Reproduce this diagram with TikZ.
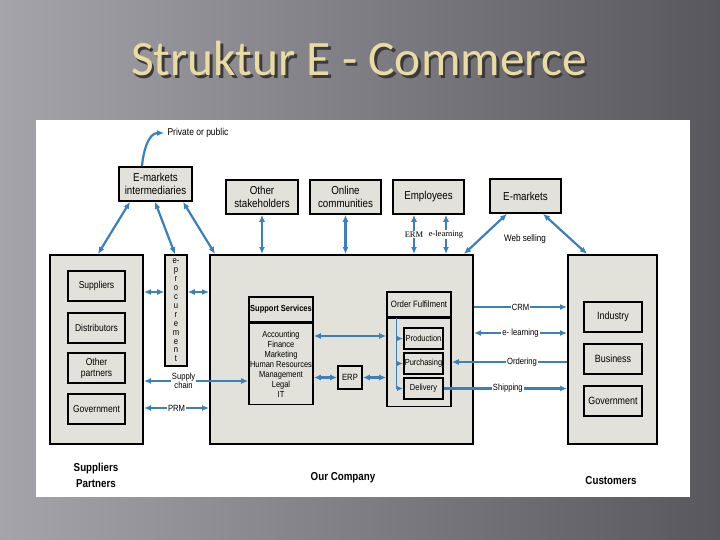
\documentclass[tikz,border=0pt]{standalone}
\usepackage{fontspec}
\setmainfont{Liberation Sans}[FakeStretch=0.85]
\newfontfamily\titlefont{Carlito}
\newfontfamily\linkfont{Liberation Serif}
\usetikzlibrary{arrows.meta,positioning}
\definecolor{boxfill}{RGB}{226,226,218}
\definecolor{flowblue}{RGB}{58,128,188}
\definecolor{titletan}{RGB}{234,220,160}
\definecolor{titleshadow}{RGB}{58,58,62}
\definecolor{slidelight}{RGB}{164,164,170}
\definecolor{slidemid}{RGB}{128,127,134}
\definecolor{slidedark}{RGB}{88,87,94}
\newcommand{\shadowtext}[1]{\makebox[0pt][l]{\hspace{2.5pt}\raisebox{-2.5pt}{\color{titleshadow}#1}}#1}
\tikzset{
  panel/.style={draw=black, fill=boxfill, line width=2pt, inner sep=0pt},
  box/.style={draw=black, fill=boxfill, line width=1.6pt, inner sep=0pt, align=center,
              font=\fontsize{11.5}{12.5}\selectfont},
  subbox/.style={box, font=\fontsize{10}{11}\selectfont},
  flow/.style={draw=flowblue, line width=2.2pt, >={Latex[length=7pt,width=6pt]}},
  thinflow/.style={draw=flowblue, line width=1.2pt, >={Latex[length=6pt,width=5pt]}},
  lbl/.style={fill=white, inner sep=1pt, align=center, font=\fontsize{9}{9.5}\selectfont},
  caption/.style={align=center, font=\bfseries\fontsize{11.5}{16}\selectfont}
}
\begin{document}
\begin{tikzpicture}[x=1pt, y=-1pt]
  \useasboundingbox (0,0) rectangle (720,540);
  \shade[left color=slidelight, middle color=slidemid, right color=slidedark] (0,0) rectangle (720,540);
  \node[text=titletan, font=\titlefont\fontsize{49.5}{51}\selectfont] (title) at (359,60) {\shadowtext{Struktur E - Commerce}};
  \fill[white] (36,120) rectangle (690,497);

  \node[panel, minimum width=93, minimum height=189] (partners) at (96.5,349.5) {};
  \node[subbox, minimum width=57, minimum height=30] (suppliers) at (96.5,286) {Suppliers};
  \node[subbox, minimum width=57, minimum height=30] (distributors) at (96.5,328) {Distributors};
  \node[subbox, minimum width=57, minimum height=30] (others) at (96.5,368) {Other\\partners};
  \node[subbox, minimum width=57, minimum height=30] (govpartner) at (96.5,409) {Government};
  \node[box, minimum width=22, minimum height=111, font=\fontsize{9}{8.9}\selectfont] (eproc) at (176,310.5)
        {e-\\p\\r\\o\\c\\u\\r\\e\\m\\e\\n\\t};

  \node[panel, minimum width=263, minimum height=189] (company) at (341.5,349.5) {};
  \node[box, minimum width=64, minimum height=25, font=\bfseries\fontsize{8.8}{9}\selectfont] (supporthead) at (281,309.5) {Support Services};
  \node[box, anchor=north, minimum width=64, minimum height=81, font=\fontsize{8.8}{10}\selectfont] (support) at (supporthead.south)
        {Accounting\\Finance\\Marketing\\Human Resources\\Management\\Legal\\IT};
  \node[box, minimum width=24, minimum height=23, font=\fontsize{9}{9}\selectfont] (erp) at (350,377.5) {ERP};
  \node[box, minimum width=64, minimum height=25, font=\fontsize{9.2}{9}\selectfont] (orderhead) at (419,304.5) {Order Fulfilment};
  \node[box, anchor=north, minimum width=64, minimum height=88] (orderbody) at (orderhead.south) {};
  \node[box, minimum width=39, minimum height=21, font=\fontsize{8.8}{9}\selectfont] (production) at (423.5,338.5) {Production};
  \node[box, minimum width=39, minimum height=21, font=\fontsize{8.8}{9}\selectfont] (purchasing) at (423.5,363.5) {Purchasing};
  \node[box, minimum width=39, minimum height=21, font=\fontsize{8.8}{9}\selectfont] (delivery) at (423.5,388.5) {Delivery};

  \node[panel, minimum width=89, minimum height=189] (customers) at (612.5,349.5) {};
  \node[subbox, minimum width=58, minimum height=30, font=\fontsize{10.5}{11}\selectfont] (industry) at (613,317) {Industry};
  \node[subbox, minimum width=58, minimum height=30, font=\fontsize{10.5}{11}\selectfont] (business) at (613,359) {Business};
  \node[subbox, minimum width=58, minimum height=30, font=\fontsize{10.5}{11}\selectfont] (govcustomer) at (613,401) {Government};

  \node[box, minimum width=73, minimum height=34] (emi) at (155.5,184) {E-markets\\intermediaries};
  \node[box, minimum width=72, minimum height=34] (stake) at (262,197) {Other\\stakeholders};
  \node[box, minimum width=71, minimum height=34] (online) at (345.5,197) {Online\\communities};
  \node[box, minimum width=71, minimum height=34] (staff) at (428.5,197) {Employees};
  \node[box, minimum width=71, minimum height=34] (emarket) at (525.5,196) {E-markets};
  \node[anchor=west, font=\fontsize{10}{10}\selectfont] (pub) at (164,133) {Private or public};
  \node[font=\fontsize{9.5}{10}\selectfont] (web) at (525,239) {Web selling};

  \draw[flow,->] ([xshift=-13.5]emi.north) to[out=85,in=180] (pub.west);
  \draw[flow,<->] ([xshift=-25.5]emi.south) -- ([xshift=1.5]partners.north);
  \draw[flow,<->] ([xshift=-0.5]emi.south) -- ([xshift=-1]eproc.north);
  \draw[flow,<->] ([xshift=27.5]emi.south) -- ([xshift=6]company.north west);
  \draw[flow,<->] (stake.south) -- (stake.south |- company.north);
  \draw[flow,<->] (online.south) -- (online.south |- company.north);
  \draw[flow,<->] ([xshift=-14.5]staff.south) -- ([xshift=-14.5]staff.south |- company.north)
        node[lbl, midway, font=\linkfont\fontsize{8.5}{9}\selectfont] {ERM};
  \draw[flow,<->] ([xshift=17.5]staff.south) -- ([xshift=17.5]staff.south |- company.north)
        node[lbl, midway, font=\linkfont\fontsize{8.5}{9}\selectfont] {e-learning};
  \draw[flow,<->] ([xshift=-18.5]emarket.south) -- ([xshift=-10]company.north east);
  \draw[flow,<->] ([xshift=17.5]emarket.south) -- ([xshift=-25.5]customers.north);

  \draw[flow,<->] (partners.east |- 0,292) -- (eproc.west |- 0,292);
  \draw[flow,<->] (eproc.east |- 0,292) -- (company.west |- 0,292);
  \draw[flow,<->] (partners.east |- 0,381) -- (support.west |- 0,381) node[lbl, pos=0.38] {Supply\\chain};
  \draw[flow,<->] (partners.east |- 0,408) -- (company.west |- 0,408) node[lbl, midway] {PRM};

  \draw[flow,<->] (support.east |- 0,336) -- (orderbody.west |- 0,336);
  \draw[flow,<->] (support.east |- erp) -- (erp.west);
  \draw[flow,<->] (erp.east) -- (orderbody.west |- erp);
  \draw[thinflow,->] ([xshift=10]orderhead.south west) |- (production.west);
  \draw[thinflow,->] ([xshift=10]orderhead.south west) |- (purchasing.west);
  \draw[thinflow,->] ([xshift=10]orderhead.south west) |- (delivery.west);

  \draw[flow,->] (company.east |- 0,307) -- (customers.west |- 0,307) node[lbl, midway] {CRM};
  \draw[flow,<->] (company.east |- 0,333) -- (customers.west |- 0,333) node[lbl, midway] {e- learning};
  \draw[flow,->] (customers.west |- 0,362) -- (orderbody.east |- 0,362) node[lbl, pos=0.39] {Ordering};
  \draw[flow,->] (delivery.east) -- (customers.west |- delivery) node[lbl, pos=0.52] {Shipping};

  \node[caption] (partnerscap) at (96,475) {Suppliers\\Partners};
  \node[caption] (companycap) at (343,478) {Our Company};
  \node[caption] (customerscap) at (611,481) {Customers};
\end{tikzpicture}
\end{document}
